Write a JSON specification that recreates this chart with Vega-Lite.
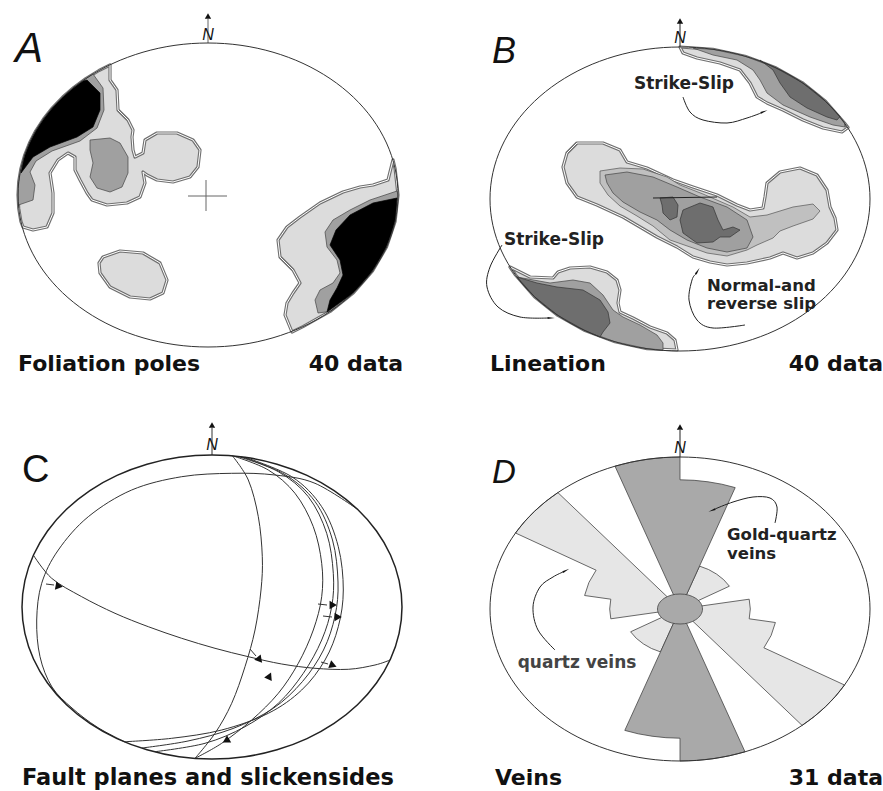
{
"$schema":"https://vega.github.io/schema/vega-lite/v6.json",
"padding":0,
"background":"white",
"spacing":0,
"bounds":"flush",
"columns":2,
"config":{"view":{"stroke":null}},
"datasets":{
"ellipse":[{"x":190,"y":0},{"x":187.1,"y":26.4},{"x":178.5,"y":52},{"x":164.5,"y":76},{"x":145.5,"y":97.7},{"x":122.1,"y":116.4},{"x":95,"y":131.6},{"x":65,"y":142.8},{"x":33,"y":149.7},{"x":0,"y":152},{"x":-33,"y":149.7},{"x":-65,"y":142.8},{"x":-95,"y":131.6},{"x":-122.1,"y":116.4},{"x":-145.5,"y":97.7},{"x":-164.5,"y":76},{"x":-178.5,"y":52},{"x":-187.1,"y":26.4},{"x":-190,"y":0},{"x":-187.1,"y":-26.4},{"x":-178.5,"y":-52},{"x":-164.5,"y":-76},{"x":-145.5,"y":-97.7},{"x":-122.1,"y":-116.4},{"x":-95,"y":-131.6},{"x":-65,"y":-142.8},{"x":-33,"y":-149.7},{"x":0,"y":-152},{"x":33,"y":-149.7},{"x":65,"y":-142.8},{"x":95,"y":-131.6},{"x":122.1,"y":-116.4},{"x":145.5,"y":-97.7},{"x":164.5,"y":-76},{"x":178.5,"y":-52},{"x":187.1,"y":-26.4}],
"polys":[
{"panel":"A","id":"A1","level":"light","x":-98,"y":130},{"panel":"A","id":"A1","level":"light","x":-98,"y":115},{"panel":"A","id":"A1","level":"light","x":-91,"y":105},{"panel":"A","id":"A1","level":"light","x":-90,"y":85},{"panel":"A","id":"A1","level":"light","x":-80,"y":75},{"panel":"A","id":"A1","level":"light","x":-75,"y":65},{"panel":"A","id":"A1","level":"light","x":-76,"y":58},{"panel":"A","id":"A1","level":"light","x":-75,"y":45},{"panel":"A","id":"A1","level":"light","x":-73,"y":38},{"panel":"A","id":"A1","level":"light","x":-65,"y":42},{"panel":"A","id":"A1","level":"light","x":-63,"y":55},{"panel":"A","id":"A1","level":"light","x":-51,"y":62},{"panel":"A","id":"A1","level":"light","x":-31,"y":62},{"panel":"A","id":"A1","level":"light","x":-15,"y":55},{"panel":"A","id":"A1","level":"light","x":-8,"y":45},{"panel":"A","id":"A1","level":"light","x":-10,"y":28},{"panel":"A","id":"A1","level":"light","x":-18,"y":18},{"panel":"A","id":"A1","level":"light","x":-35,"y":13},{"panel":"A","id":"A1","level":"light","x":-51,"y":15},{"panel":"A","id":"A1","level":"light","x":-61,"y":20},{"panel":"A","id":"A1","level":"light","x":-65,"y":23},{"panel":"A","id":"A1","level":"light","x":-63,"y":12},{"panel":"A","id":"A1","level":"light","x":-68,"y":-2},{"panel":"A","id":"A1","level":"light","x":-81,"y":-8},{"panel":"A","id":"A1","level":"light","x":-101,"y":-10},{"panel":"A","id":"A1","level":"light","x":-116,"y":-5},{"panel":"A","id":"A1","level":"light","x":-121,"y":2},{"panel":"A","id":"A1","level":"light","x":-128,"y":15},{"panel":"A","id":"A1","level":"light","x":-133,"y":25},{"panel":"A","id":"A1","level":"light","x":-133,"y":38},{"panel":"A","id":"A1","level":"light","x":-140,"y":42},{"panel":"A","id":"A1","level":"light","x":-150,"y":35},{"panel":"A","id":"A1","level":"light","x":-158,"y":22},{"panel":"A","id":"A1","level":"light","x":-155,"y":2},{"panel":"A","id":"A1","level":"light","x":-155,"y":-18},{"panel":"A","id":"A1","level":"light","x":-161,"y":-32},{"panel":"A","id":"A1","level":"light","x":-175,"y":-35},{"panel":"A","id":"A1","level":"light","x":-185,"y":-32},{"panel":"A","id":"A1","level":"light","x":-187.1,"y":-26.4},{"panel":"A","id":"A1","level":"light","x":-189.3,"y":-13.2},{"panel":"A","id":"A1","level":"light","x":-190,"y":0},{"panel":"A","id":"A1","level":"light","x":-189.3,"y":13.2},{"panel":"A","id":"A1","level":"light","x":-187.1,"y":26.4},{"panel":"A","id":"A1","level":"light","x":-183.5,"y":39.3},{"panel":"A","id":"A1","level":"light","x":-178.5,"y":52},{"panel":"A","id":"A1","level":"light","x":-172.2,"y":64.2},{"panel":"A","id":"A1","level":"light","x":-164.5,"y":76},{"panel":"A","id":"A1","level":"light","x":-155.6,"y":87.2},{"panel":"A","id":"A1","level":"light","x":-145.5,"y":97.7},{"panel":"A","id":"A1","level":"light","x":-134.3,"y":107.5},{"panel":"A","id":"A1","level":"light","x":-122.1,"y":116.4},{"panel":"A","id":"A1","level":"light","x":-109,"y":124.5},
{"panel":"A","id":"A2","level":"mid","x":-115,"y":121},{"panel":"A","id":"A2","level":"mid","x":-105,"y":107},{"panel":"A","id":"A2","level":"mid","x":-104,"y":85},{"panel":"A","id":"A2","level":"mid","x":-111,"y":67},{"panel":"A","id":"A2","level":"mid","x":-128,"y":54},{"panel":"A","id":"A2","level":"mid","x":-156,"y":44},{"panel":"A","id":"A2","level":"mid","x":-172,"y":34},{"panel":"A","id":"A2","level":"mid","x":-178,"y":23},{"panel":"A","id":"A2","level":"mid","x":-173,"y":10},{"panel":"A","id":"A2","level":"mid","x":-175,"y":-5},{"panel":"A","id":"A2","level":"mid","x":-189.5,"y":-10},{"panel":"A","id":"A2","level":"mid","x":-190,"y":0},{"panel":"A","id":"A2","level":"mid","x":-189.3,"y":13.2},{"panel":"A","id":"A2","level":"mid","x":-187.1,"y":26.4},{"panel":"A","id":"A2","level":"mid","x":-183.5,"y":39.3},{"panel":"A","id":"A2","level":"mid","x":-178.5,"y":52},{"panel":"A","id":"A2","level":"mid","x":-172.2,"y":64.2},{"panel":"A","id":"A2","level":"mid","x":-164.5,"y":76},{"panel":"A","id":"A2","level":"mid","x":-155.6,"y":87.2},{"panel":"A","id":"A2","level":"mid","x":-145.5,"y":97.7},{"panel":"A","id":"A2","level":"mid","x":-134.3,"y":107.5},{"panel":"A","id":"A2","level":"mid","x":-122.1,"y":116.4},
{"panel":"A","id":"A3","level":"mid","x":-118,"y":55},{"panel":"A","id":"A3","level":"mid","x":-98,"y":57},{"panel":"A","id":"A3","level":"mid","x":-88,"y":52},{"panel":"A","id":"A3","level":"mid","x":-80,"y":38},{"panel":"A","id":"A3","level":"mid","x":-80,"y":22},{"panel":"A","id":"A3","level":"mid","x":-86,"y":8},{"panel":"A","id":"A3","level":"mid","x":-98,"y":3},{"panel":"A","id":"A3","level":"mid","x":-111,"y":7},{"panel":"A","id":"A3","level":"mid","x":-118,"y":18},{"panel":"A","id":"A3","level":"mid","x":-115,"y":32},{"panel":"A","id":"A3","level":"mid","x":-118,"y":45},
{"panel":"A","id":"A4","level":"black","x":-121,"y":115},{"panel":"A","id":"A4","level":"black","x":-108,"y":102},{"panel":"A","id":"A4","level":"black","x":-108,"y":85},{"panel":"A","id":"A4","level":"black","x":-115,"y":68},{"panel":"A","id":"A4","level":"black","x":-131,"y":58},{"panel":"A","id":"A4","level":"black","x":-158,"y":48},{"panel":"A","id":"A4","level":"black","x":-175,"y":38},{"panel":"A","id":"A4","level":"black","x":-187,"y":22},{"panel":"A","id":"A4","level":"black","x":-183.5,"y":39.3},{"panel":"A","id":"A4","level":"black","x":-178.5,"y":52},{"panel":"A","id":"A4","level":"black","x":-172.2,"y":64.2},{"panel":"A","id":"A4","level":"black","x":-164.5,"y":76},{"panel":"A","id":"A4","level":"black","x":-155.6,"y":87.2},{"panel":"A","id":"A4","level":"black","x":-145.5,"y":97.7},{"panel":"A","id":"A4","level":"black","x":-134.3,"y":107.5},{"panel":"A","id":"A4","level":"black","x":-125,"y":114},
{"panel":"A","id":"A5","level":"light","x":-105,"y":-62},{"panel":"A","id":"A5","level":"light","x":-88,"y":-56},{"panel":"A","id":"A5","level":"light","x":-65,"y":-58},{"panel":"A","id":"A5","level":"light","x":-48,"y":-68},{"panel":"A","id":"A5","level":"light","x":-41,"y":-85},{"panel":"A","id":"A5","level":"light","x":-45,"y":-98},{"panel":"A","id":"A5","level":"light","x":-58,"y":-104},{"panel":"A","id":"A5","level":"light","x":-78,"y":-102},{"panel":"A","id":"A5","level":"light","x":-98,"y":-92},{"panel":"A","id":"A5","level":"light","x":-108,"y":-78},{"panel":"A","id":"A5","level":"light","x":-109,"y":-68},
{"panel":"A","id":"A6","level":"light","x":185,"y":35},{"panel":"A","id":"A6","level":"light","x":180,"y":15},{"panel":"A","id":"A6","level":"light","x":165,"y":10},{"panel":"A","id":"A6","level":"light","x":152,"y":8},{"panel":"A","id":"A6","level":"light","x":135,"y":3},{"panel":"A","id":"A6","level":"light","x":112,"y":-8},{"panel":"A","id":"A6","level":"light","x":92,"y":-22},{"panel":"A","id":"A6","level":"light","x":79,"y":-32},{"panel":"A","id":"A6","level":"light","x":70,"y":-45},{"panel":"A","id":"A6","level":"light","x":72,"y":-62},{"panel":"A","id":"A6","level":"light","x":85,"y":-75},{"panel":"A","id":"A6","level":"light","x":92,"y":-88},{"panel":"A","id":"A6","level":"light","x":85,"y":-98},{"panel":"A","id":"A6","level":"light","x":79,"y":-108},{"panel":"A","id":"A6","level":"light","x":77,"y":-120},{"panel":"A","id":"A6","level":"light","x":84,"y":-137},{"panel":"A","id":"A6","level":"light","x":95,"y":-131.6},{"panel":"A","id":"A6","level":"light","x":122.1,"y":-116.4},{"panel":"A","id":"A6","level":"light","x":145.5,"y":-97.7},{"panel":"A","id":"A6","level":"light","x":164.5,"y":-76},{"panel":"A","id":"A6","level":"light","x":178.5,"y":-52},{"panel":"A","id":"A6","level":"light","x":187.1,"y":-26.4},{"panel":"A","id":"A6","level":"light","x":190,"y":0},{"panel":"A","id":"A6","level":"light","x":187.1,"y":26.4},
{"panel":"A","id":"A7","level":"mid","x":189,"y":4},{"panel":"A","id":"A7","level":"mid","x":162,"y":-5},{"panel":"A","id":"A7","level":"mid","x":142,"y":-15},{"panel":"A","id":"A7","level":"mid","x":125,"y":-25},{"panel":"A","id":"A7","level":"mid","x":117,"y":-37},{"panel":"A","id":"A7","level":"mid","x":119,"y":-52},{"panel":"A","id":"A7","level":"mid","x":129,"y":-65},{"panel":"A","id":"A7","level":"mid","x":132,"y":-78},{"panel":"A","id":"A7","level":"mid","x":125,"y":-88},{"panel":"A","id":"A7","level":"mid","x":112,"y":-95},{"panel":"A","id":"A7","level":"mid","x":107,"y":-105},{"panel":"A","id":"A7","level":"mid","x":110,"y":-118},{"panel":"A","id":"A7","level":"mid","x":122.1,"y":-116.4},{"panel":"A","id":"A7","level":"mid","x":145.5,"y":-97.7},{"panel":"A","id":"A7","level":"mid","x":164.5,"y":-76},{"panel":"A","id":"A7","level":"mid","x":178.5,"y":-52},{"panel":"A","id":"A7","level":"mid","x":187.1,"y":-26.4},{"panel":"A","id":"A7","level":"mid","x":190,"y":0},
{"panel":"A","id":"A8","level":"black","x":189,"y":-3},{"panel":"A","id":"A8","level":"black","x":165,"y":-8},{"panel":"A","id":"A8","level":"black","x":142,"y":-20},{"panel":"A","id":"A8","level":"black","x":128,"y":-35},{"panel":"A","id":"A8","level":"black","x":122,"y":-50},{"panel":"A","id":"A8","level":"black","x":132,"y":-65},{"panel":"A","id":"A8","level":"black","x":135,"y":-80},{"panel":"A","id":"A8","level":"black","x":129,"y":-93},{"panel":"A","id":"A8","level":"black","x":122,"y":-105},{"panel":"A","id":"A8","level":"black","x":119,"y":-117},{"panel":"A","id":"A8","level":"black","x":145.5,"y":-97.7},{"panel":"A","id":"A8","level":"black","x":164.5,"y":-76},{"panel":"A","id":"A8","level":"black","x":178.5,"y":-52},{"panel":"A","id":"A8","level":"black","x":187.1,"y":-26.4},
{"panel":"B","id":"B1","level":"light","x":0,"y":152},{"panel":"B","id":"B1","level":"light","x":3,"y":146},{"panel":"B","id":"B1","level":"light","x":17,"y":141},{"panel":"B","id":"B1","level":"light","x":40,"y":136},{"panel":"B","id":"B1","level":"light","x":60,"y":129},{"panel":"B","id":"B1","level":"light","x":70,"y":116},{"panel":"B","id":"B1","level":"light","x":77,"y":102},{"panel":"B","id":"B1","level":"light","x":87,"y":96},{"panel":"B","id":"B1","level":"light","x":103,"y":89},{"panel":"B","id":"B1","level":"light","x":123,"y":79},{"panel":"B","id":"B1","level":"light","x":143,"y":71},{"panel":"B","id":"B1","level":"light","x":162,"y":67},{"panel":"B","id":"B1","level":"light","x":168,"y":71.5},{"panel":"B","id":"B1","level":"light","x":164.5,"y":76},{"panel":"B","id":"B1","level":"light","x":145.5,"y":97.7},{"panel":"B","id":"B1","level":"light","x":122.1,"y":116.4},{"panel":"B","id":"B1","level":"light","x":95,"y":131.6},{"panel":"B","id":"B1","level":"light","x":65,"y":142.8},{"panel":"B","id":"B1","level":"light","x":33,"y":149.7},
{"panel":"B","id":"B2","level":"mid","x":13,"y":151},{"panel":"B","id":"B2","level":"mid","x":33,"y":144},{"panel":"B","id":"B2","level":"mid","x":57,"y":139},{"panel":"B","id":"B2","level":"mid","x":73,"y":129},{"panel":"B","id":"B2","level":"mid","x":80,"y":119},{"panel":"B","id":"B2","level":"mid","x":87,"y":106},{"panel":"B","id":"B2","level":"mid","x":103,"y":94},{"panel":"B","id":"B2","level":"mid","x":130,"y":82},{"panel":"B","id":"B2","level":"mid","x":153,"y":74},{"panel":"B","id":"B2","level":"mid","x":165,"y":72},{"panel":"B","id":"B2","level":"mid","x":164.5,"y":76},{"panel":"B","id":"B2","level":"mid","x":145.5,"y":97.7},{"panel":"B","id":"B2","level":"mid","x":122.1,"y":116.4},{"panel":"B","id":"B2","level":"mid","x":95,"y":131.6},{"panel":"B","id":"B2","level":"mid","x":65,"y":142.8},{"panel":"B","id":"B2","level":"mid","x":33,"y":149.7},
{"panel":"B","id":"B3","level":"dark","x":80,"y":139},{"panel":"B","id":"B3","level":"dark","x":93,"y":129},{"panel":"B","id":"B3","level":"dark","x":100,"y":116},{"panel":"B","id":"B3","level":"dark","x":110,"y":102},{"panel":"B","id":"B3","level":"dark","x":127,"y":91},{"panel":"B","id":"B3","level":"dark","x":147,"y":82},{"panel":"B","id":"B3","level":"dark","x":157,"y":79},{"panel":"B","id":"B3","level":"dark","x":160,"y":82.5},{"panel":"B","id":"B3","level":"dark","x":145.5,"y":97.7},{"panel":"B","id":"B3","level":"dark","x":122.1,"y":116.4},{"panel":"B","id":"B3","level":"dark","x":95,"y":131.6},{"panel":"B","id":"B3","level":"dark","x":80.3,"y":137.8},
{"panel":"B","id":"B4","level":"light","x":-113,"y":46},{"panel":"B","id":"B4","level":"light","x":-103,"y":56},{"panel":"B","id":"B4","level":"light","x":-77,"y":56},{"panel":"B","id":"B4","level":"light","x":-60,"y":49},{"panel":"B","id":"B4","level":"light","x":-53,"y":37},{"panel":"B","id":"B4","level":"light","x":-33,"y":31},{"panel":"B","id":"B4","level":"light","x":-7,"y":19},{"panel":"B","id":"B4","level":"light","x":13,"y":12},{"panel":"B","id":"B4","level":"light","x":37,"y":4},{"panel":"B","id":"B4","level":"light","x":57,"y":-6},{"panel":"B","id":"B4","level":"light","x":70,"y":-11},{"panel":"B","id":"B4","level":"light","x":83,"y":-9},{"panel":"B","id":"B4","level":"light","x":85,"y":2},{"panel":"B","id":"B4","level":"light","x":87,"y":16},{"panel":"B","id":"B4","level":"light","x":100,"y":27},{"panel":"B","id":"B4","level":"light","x":120,"y":31},{"panel":"B","id":"B4","level":"light","x":137,"y":24},{"panel":"B","id":"B4","level":"light","x":147,"y":9},{"panel":"B","id":"B4","level":"light","x":150,"y":-8},{"panel":"B","id":"B4","level":"light","x":155,"y":-19},{"panel":"B","id":"B4","level":"light","x":157,"y":-31},{"panel":"B","id":"B4","level":"light","x":147,"y":-44},{"panel":"B","id":"B4","level":"light","x":133,"y":-54},{"panel":"B","id":"B4","level":"light","x":117,"y":-59},{"panel":"B","id":"B4","level":"light","x":103,"y":-54},{"panel":"B","id":"B4","level":"light","x":90,"y":-59},{"panel":"B","id":"B4","level":"light","x":67,"y":-64},{"panel":"B","id":"B4","level":"light","x":47,"y":-66},{"panel":"B","id":"B4","level":"light","x":30,"y":-63},{"panel":"B","id":"B4","level":"light","x":13,"y":-58},{"panel":"B","id":"B4","level":"light","x":-3,"y":-48},{"panel":"B","id":"B4","level":"light","x":-23,"y":-38},{"panel":"B","id":"B4","level":"light","x":-40,"y":-28},{"panel":"B","id":"B4","level":"light","x":-57,"y":-18},{"panel":"B","id":"B4","level":"light","x":-83,"y":-6},{"panel":"B","id":"B4","level":"light","x":-103,"y":2},{"panel":"B","id":"B4","level":"light","x":-113,"y":16},{"panel":"B","id":"B4","level":"light","x":-117,"y":32},
{"panel":"B","id":"B5","level":"midlight","x":-80,"y":28},{"panel":"B","id":"B5","level":"midlight","x":-60,"y":31},{"panel":"B","id":"B5","level":"midlight","x":-37,"y":30},{"panel":"B","id":"B5","level":"midlight","x":-13,"y":22},{"panel":"B","id":"B5","level":"midlight","x":0,"y":14},{"panel":"B","id":"B5","level":"midlight","x":23,"y":5},{"panel":"B","id":"B5","level":"midlight","x":53,"y":-8},{"panel":"B","id":"B5","level":"midlight","x":70,"y":-18},{"panel":"B","id":"B5","level":"midlight","x":87,"y":-16},{"panel":"B","id":"B5","level":"midlight","x":113,"y":-8},{"panel":"B","id":"B5","level":"midlight","x":133,"y":-5},{"panel":"B","id":"B5","level":"midlight","x":140,"y":-12},{"panel":"B","id":"B5","level":"midlight","x":133,"y":-20},{"panel":"B","id":"B5","level":"midlight","x":113,"y":-27},{"panel":"B","id":"B5","level":"midlight","x":100,"y":-32},{"panel":"B","id":"B5","level":"midlight","x":93,"y":-39},{"panel":"B","id":"B5","level":"midlight","x":77,"y":-46},{"panel":"B","id":"B5","level":"midlight","x":67,"y":-51},{"panel":"B","id":"B5","level":"midlight","x":47,"y":-57},{"panel":"B","id":"B5","level":"midlight","x":27,"y":-54},{"panel":"B","id":"B5","level":"midlight","x":13,"y":-49},{"panel":"B","id":"B5","level":"midlight","x":-10,"y":-41},{"panel":"B","id":"B5","level":"midlight","x":-27,"y":-27},{"panel":"B","id":"B5","level":"midlight","x":-43,"y":-17},{"panel":"B","id":"B5","level":"midlight","x":-60,"y":-7},{"panel":"B","id":"B5","level":"midlight","x":-72,"y":4},{"panel":"B","id":"B5","level":"midlight","x":-80,"y":16},
{"panel":"B","id":"B6","level":"mid","x":-75,"y":24},{"panel":"B","id":"B6","level":"mid","x":-53,"y":27},{"panel":"B","id":"B6","level":"mid","x":-27,"y":22},{"panel":"B","id":"B6","level":"mid","x":-3,"y":12},{"panel":"B","id":"B6","level":"mid","x":20,"y":2},{"panel":"B","id":"B6","level":"mid","x":47,"y":-8},{"panel":"B","id":"B6","level":"mid","x":67,"y":-21},{"panel":"B","id":"B6","level":"mid","x":73,"y":-38},{"panel":"B","id":"B6","level":"mid","x":67,"y":-49},{"panel":"B","id":"B6","level":"mid","x":47,"y":-53},{"panel":"B","id":"B6","level":"mid","x":27,"y":-49},{"panel":"B","id":"B6","level":"mid","x":7,"y":-41},{"panel":"B","id":"B6","level":"mid","x":-10,"y":-31},{"panel":"B","id":"B6","level":"mid","x":-23,"y":-21},{"panel":"B","id":"B6","level":"mid","x":-40,"y":-13},{"panel":"B","id":"B6","level":"mid","x":-57,"y":-3},{"panel":"B","id":"B6","level":"mid","x":-67,"y":6},{"panel":"B","id":"B6","level":"mid","x":-73,"y":16},
{"panel":"B","id":"B7","level":"dark","x":-20,"y":1},{"panel":"B","id":"B7","level":"dark","x":-7,"y":2},{"panel":"B","id":"B7","level":"dark","x":-2,"y":-6},{"panel":"B","id":"B7","level":"dark","x":-3,"y":-18},{"panel":"B","id":"B7","level":"dark","x":-10,"y":-21},{"panel":"B","id":"B7","level":"dark","x":-17,"y":-14},{"panel":"B","id":"B7","level":"dark","x":-18,"y":-6},
{"panel":"B","id":"B8","level":"dark","x":3,"y":-11},{"panel":"B","id":"B8","level":"dark","x":20,"y":-4},{"panel":"B","id":"B8","level":"dark","x":33,"y":-8},{"panel":"B","id":"B8","level":"dark","x":38,"y":-21},{"panel":"B","id":"B8","level":"dark","x":43,"y":-31},{"panel":"B","id":"B8","level":"dark","x":53,"y":-28},{"panel":"B","id":"B8","level":"dark","x":60,"y":-31},{"panel":"B","id":"B8","level":"dark","x":50,"y":-38},{"panel":"B","id":"B8","level":"dark","x":40,"y":-38},{"panel":"B","id":"B8","level":"dark","x":33,"y":-43},{"panel":"B","id":"B8","level":"dark","x":17,"y":-44},{"panel":"B","id":"B8","level":"dark","x":3,"y":-34},{"panel":"B","id":"B8","level":"dark","x":0,"y":-21},
{"panel":"B","id":"B9","level":"light","x":-170,"y":-68},{"panel":"B","id":"B9","level":"light","x":-150,"y":-78},{"panel":"B","id":"B9","level":"light","x":-127,"y":-79},{"panel":"B","id":"B9","level":"light","x":-122,"y":-73},{"panel":"B","id":"B9","level":"light","x":-110,"y":-69},{"panel":"B","id":"B9","level":"light","x":-90,"y":-68},{"panel":"B","id":"B9","level":"light","x":-73,"y":-73},{"panel":"B","id":"B9","level":"light","x":-63,"y":-81},{"panel":"B","id":"B9","level":"light","x":-60,"y":-91},{"panel":"B","id":"B9","level":"light","x":-62,"y":-104},{"panel":"B","id":"B9","level":"light","x":-60,"y":-113},{"panel":"B","id":"B9","level":"light","x":-47,"y":-119},{"panel":"B","id":"B9","level":"light","x":-30,"y":-128},{"panel":"B","id":"B9","level":"light","x":-13,"y":-134},{"panel":"B","id":"B9","level":"light","x":-5,"y":-141},{"panel":"B","id":"B9","level":"light","x":-3,"y":-151},{"panel":"B","id":"B9","level":"light","x":-33,"y":-149.7},{"panel":"B","id":"B9","level":"light","x":-65,"y":-142.8},{"panel":"B","id":"B9","level":"light","x":-95,"y":-131.6},{"panel":"B","id":"B9","level":"light","x":-122.1,"y":-116.4},{"panel":"B","id":"B9","level":"light","x":-145.5,"y":-97.7},{"panel":"B","id":"B9","level":"light","x":-164.5,"y":-76},
{"panel":"B","id":"B10","level":"mid","x":-163,"y":-78},{"panel":"B","id":"B10","level":"mid","x":-130,"y":-84},{"panel":"B","id":"B10","level":"mid","x":-107,"y":-81},{"panel":"B","id":"B10","level":"mid","x":-90,"y":-84},{"panel":"B","id":"B10","level":"mid","x":-77,"y":-96},{"panel":"B","id":"B10","level":"mid","x":-67,"y":-111},{"panel":"B","id":"B10","level":"mid","x":-57,"y":-118},{"panel":"B","id":"B10","level":"mid","x":-40,"y":-126},{"panel":"B","id":"B10","level":"mid","x":-23,"y":-136},{"panel":"B","id":"B10","level":"mid","x":-17,"y":-144},{"panel":"B","id":"B10","level":"mid","x":-17,"y":-151},{"panel":"B","id":"B10","level":"mid","x":-33,"y":-149.7},{"panel":"B","id":"B10","level":"mid","x":-65,"y":-142.8},{"panel":"B","id":"B10","level":"mid","x":-95,"y":-131.6},{"panel":"B","id":"B10","level":"mid","x":-122.1,"y":-116.4},{"panel":"B","id":"B10","level":"mid","x":-145.5,"y":-97.7},
{"panel":"B","id":"B11","level":"dark","x":-163,"y":-78},{"panel":"B","id":"B11","level":"dark","x":-143,"y":-84},{"panel":"B","id":"B11","level":"dark","x":-123,"y":-88},{"panel":"B","id":"B11","level":"dark","x":-97,"y":-91},{"panel":"B","id":"B11","level":"dark","x":-80,"y":-101},{"panel":"B","id":"B11","level":"dark","x":-72,"y":-113},{"panel":"B","id":"B11","level":"dark","x":-70,"y":-124},{"panel":"B","id":"B11","level":"dark","x":-77,"y":-133},{"panel":"B","id":"B11","level":"dark","x":-80,"y":-138},{"panel":"B","id":"B11","level":"dark","x":-95,"y":-131.6},{"panel":"B","id":"B11","level":"dark","x":-122.1,"y":-116.4},{"panel":"B","id":"B11","level":"dark","x":-145.5,"y":-97.7},
{"panel":"D","id":"Dqw","level":"qz","x":0,"y":0},{"panel":"D","id":"Dqw","level":"qz","x":-69.2,"y":-9.8},{"panel":"D","id":"Dqw","level":"qz","x":-70.3,"y":0},{"panel":"D","id":"Dqw","level":"qz","x":-69.2,"y":9.8},{"panel":"D","id":"Dqw","level":"qz","x":-95.4,"y":13.5},{"panel":"D","id":"Dqw","level":"qz","x":-91.1,"y":26.5},{"panel":"D","id":"Dqw","level":"qz","x":-83.9,"y":38.8},{"panel":"D","id":"Dqw","level":"qz","x":-164.5,"y":76},{"panel":"D","id":"Dqw","level":"qz","x":-155.6,"y":87.2},{"panel":"D","id":"Dqw","level":"qz","x":-145.5,"y":97.7},{"panel":"D","id":"Dqw","level":"qz","x":-134.3,"y":107.5},{"panel":"D","id":"Dqw","level":"qz","x":-122.1,"y":116.4},
{"panel":"D","id":"Dqe","level":"qz","x":0,"y":0},{"panel":"D","id":"Dqe","level":"qz","x":69.2,"y":9.8},{"panel":"D","id":"Dqe","level":"qz","x":70.3,"y":0},{"panel":"D","id":"Dqe","level":"qz","x":69.2,"y":-9.8},{"panel":"D","id":"Dqe","level":"qz","x":95.4,"y":-13.5},{"panel":"D","id":"Dqe","level":"qz","x":91.1,"y":-26.5},{"panel":"D","id":"Dqe","level":"qz","x":83.9,"y":-38.8},{"panel":"D","id":"Dqe","level":"qz","x":164.5,"y":-76},{"panel":"D","id":"Dqe","level":"qz","x":155.6,"y":-87.2},{"panel":"D","id":"Dqe","level":"qz","x":145.5,"y":-97.7},{"panel":"D","id":"Dqe","level":"qz","x":134.3,"y":-107.5},{"panel":"D","id":"Dqe","level":"qz","x":122.1,"y":-116.4},
{"panel":"D","id":"Dqne","level":"qz","x":0,"y":0},{"panel":"D","id":"Dqne","level":"qz","x":19.5,"y":42.9},{"panel":"D","id":"Dqne","level":"qz","x":28.5,"y":39.5},{"panel":"D","id":"Dqne","level":"qz","x":36.6,"y":34.9},{"panel":"D","id":"Dqne","level":"qz","x":43.7,"y":29.3},{"panel":"D","id":"Dqne","level":"qz","x":49.4,"y":22.8},
{"panel":"D","id":"Dqsw","level":"qz","x":0,"y":0},{"panel":"D","id":"Dqsw","level":"qz","x":-19.5,"y":-42.9},{"panel":"D","id":"Dqsw","level":"qz","x":-28.5,"y":-39.5},{"panel":"D","id":"Dqsw","level":"qz","x":-36.6,"y":-34.9},{"panel":"D","id":"Dqsw","level":"qz","x":-43.7,"y":-29.3},{"panel":"D","id":"Dqsw","level":"qz","x":-49.4,"y":-22.8},
{"panel":"D","id":"Dgn","level":"gq","x":0,"y":0},{"panel":"D","id":"Dgn","level":"gq","x":-65,"y":142.8},{"panel":"D","id":"Dgn","level":"gq","x":-49.2,"y":146.8},{"panel":"D","id":"Dgn","level":"gq","x":-33,"y":149.7},{"panel":"D","id":"Dgn","level":"gq","x":-16.6,"y":151.4},{"panel":"D","id":"Dgn","level":"gq","x":0,"y":152},{"panel":"D","id":"Dgn","level":"gq","x":0,"y":129.2},{"panel":"D","id":"Dgn","level":"gq","x":14.1,"y":128.7},{"panel":"D","id":"Dgn","level":"gq","x":28,"y":127.2},{"panel":"D","id":"Dgn","level":"gq","x":41.8,"y":124.8},{"panel":"D","id":"Dgn","level":"gq","x":55.2,"y":121.4},
{"panel":"D","id":"Dgs","level":"gq","x":0,"y":0},{"panel":"D","id":"Dgs","level":"gq","x":65,"y":-142.8},{"panel":"D","id":"Dgs","level":"gq","x":49.2,"y":-146.8},{"panel":"D","id":"Dgs","level":"gq","x":33,"y":-149.7},{"panel":"D","id":"Dgs","level":"gq","x":16.6,"y":-151.4},{"panel":"D","id":"Dgs","level":"gq","x":0,"y":-152},{"panel":"D","id":"Dgs","level":"gq","x":0,"y":-129.2},{"panel":"D","id":"Dgs","level":"gq","x":-14.1,"y":-128.7},{"panel":"D","id":"Dgs","level":"gq","x":-28,"y":-127.2},{"panel":"D","id":"Dgs","level":"gq","x":-41.8,"y":-124.8},{"panel":"D","id":"Dgs","level":"gq","x":-55.2,"y":-121.4},
{"panel":"D","id":"Dc","level":"core","x":22.5,"y":0},{"panel":"D","id":"Dc","level":"core","x":20.8,"y":5.7},{"panel":"D","id":"Dc","level":"core","x":15.9,"y":10.6},{"panel":"D","id":"Dc","level":"core","x":8.6,"y":13.9},{"panel":"D","id":"Dc","level":"core","x":0,"y":15},{"panel":"D","id":"Dc","level":"core","x":-8.6,"y":13.9},{"panel":"D","id":"Dc","level":"core","x":-15.9,"y":10.6},{"panel":"D","id":"Dc","level":"core","x":-20.8,"y":5.7},{"panel":"D","id":"Dc","level":"core","x":-22.5,"y":0},{"panel":"D","id":"Dc","level":"core","x":-20.8,"y":-5.7},{"panel":"D","id":"Dc","level":"core","x":-15.9,"y":-10.6},{"panel":"D","id":"Dc","level":"core","x":-8.6,"y":-13.9},{"panel":"D","id":"Dc","level":"core","x":0,"y":-15},{"panel":"D","id":"Dc","level":"core","x":8.6,"y":-13.9},{"panel":"D","id":"Dc","level":"core","x":15.9,"y":-10.6},{"panel":"D","id":"Dc","level":"core","x":20.8,"y":-5.7}
],
"lines":[
{"panel":"A","id":"Ah","x":-20,"y":-1},{"panel":"A","id":"Ah","x":19,"y":-1},
{"panel":"A","id":"Av","x":-2,"y":15},{"panel":"A","id":"Av","x":-2,"y":-16},
{"panel":"A","id":"An","x":0,"y":152},{"panel":"A","id":"An","x":0,"y":176},
{"panel":"B","id":"Bn","x":0,"y":152},{"panel":"B","id":"Bn","x":0,"y":176},
{"panel":"B","id":"Bl","x":-27,"y":1},{"panel":"B","id":"Bl","x":37,"y":2},
{"panel":"B","id":"Bc1","x":3,"y":102},{"panel":"B","id":"Bc1","x":10,"y":87},{"panel":"B","id":"Bc1","x":23,"y":79},{"panel":"B","id":"Bc1","x":47,"y":76},{"panel":"B","id":"Bc1","x":67,"y":81},{"panel":"B","id":"Bc1","x":81,"y":86},
{"panel":"B","id":"Bc2","x":-178,"y":-46},{"panel":"B","id":"Bc2","x":-190,"y":-68},{"panel":"B","id":"Bc2","x":-193,"y":-88},{"panel":"B","id":"Bc2","x":-182,"y":-108},{"panel":"B","id":"Bc2","x":-160,"y":-118},{"panel":"B","id":"Bc2","x":-132,"y":-119},
{"panel":"B","id":"Bc3","x":65,"y":-126},{"panel":"B","id":"Bc3","x":33,"y":-129},{"panel":"B","id":"Bc3","x":17,"y":-121},{"panel":"B","id":"Bc3","x":9,"y":-101},{"panel":"B","id":"Bc3","x":12,"y":-81},{"panel":"B","id":"Bc3","x":16,"y":-75},
{"panel":"C","id":"Cn","x":0,"y":152},{"panel":"C","id":"Cn","x":0,"y":179},
{"panel":"C","id":"Cc","x":19.7,"y":152},{"panel":"C","id":"Cc","x":36.3,"y":127},{"panel":"C","id":"Cc","x":46.3,"y":90.3},{"panel":"C","id":"Cc","x":50.3,"y":50.3},{"panel":"C","id":"Cc","x":49,"y":17},{"panel":"C","id":"Cc","x":43,"y":-23},{"panel":"C","id":"Cc","x":33,"y":-59.7},{"panel":"C","id":"Cc","x":19.7,"y":-96.3},{"panel":"C","id":"Cc","x":3,"y":-126.3},{"panel":"C","id":"Cc","x":-17,"y":-151.3},
{"panel":"C","id":"Ca","x":-178.7,"y":52},{"panel":"C","id":"Ca","x":-160.3,"y":28.7},{"panel":"C","id":"Ca","x":-130.3,"y":10.3},{"panel":"C","id":"Ca","x":-97,"y":-6.3},{"panel":"C","id":"Ca","x":-63.7,"y":-19.7},{"panel":"C","id":"Ca","x":-30.3,"y":-31.3},{"panel":"C","id":"Ca","x":3,"y":-41.3},{"panel":"C","id":"Ca","x":36.3,"y":-49.7},{"panel":"C","id":"Ca","x":69.7,"y":-57},{"panel":"C","id":"Ca","x":103,"y":-61.3},{"panel":"C","id":"Ca","x":136.3,"y":-62.3},{"panel":"C","id":"Ca","x":163,"y":-58},{"panel":"C","id":"Ca","x":178,"y":-53},
{"panel":"C","id":"Cb","x":145.5,"y":97.7},{"panel":"C","id":"Cb","x":103,"y":123.7},{"panel":"C","id":"Cb","x":63,"y":132},{"panel":"C","id":"Cb","x":19.7,"y":133.7},{"panel":"C","id":"Cb","x":-30.3,"y":130.3},{"panel":"C","id":"Cb","x":-80.3,"y":117},{"panel":"C","id":"Cb","x":-123.7,"y":90.3},{"panel":"C","id":"Cb","x":-153.7,"y":57},{"panel":"C","id":"Cb","x":-170.3,"y":23.7},{"panel":"C","id":"Cb","x":-175.3,"y":-13},{"panel":"C","id":"Cb","x":-172,"y":-49.7},{"panel":"C","id":"Cb","x":-160,"y":-80},{"panel":"C","id":"Cb","x":-140,"y":-101},{"panel":"C","id":"Cb","x":-115,"y":-120},{"panel":"C","id":"Cb","x":-87,"y":-135},
{"panel":"C","id":"Cbeta","x":21.3,"y":151},{"panel":"C","id":"Cbeta","x":56.3,"y":137},{"panel":"C","id":"Cbeta","x":83,"y":113.7},{"panel":"C","id":"Cbeta","x":101.3,"y":80.3},{"panel":"C","id":"Cbeta","x":109.7,"y":43.7},{"panel":"C","id":"Cbeta","x":109.7,"y":10.3},{"panel":"C","id":"Cbeta","x":101.3,"y":-23},{"panel":"C","id":"Cbeta","x":86.3,"y":-56.3},{"panel":"C","id":"Cbeta","x":66.3,"y":-86.3},{"panel":"C","id":"Cbeta","x":39.7,"y":-113},{"panel":"C","id":"Cbeta","x":9.7,"y":-136.3},{"panel":"C","id":"Cbeta","x":-17,"y":-151.3},
{"panel":"C","id":"Cgamma","x":26.3,"y":150.5},{"panel":"C","id":"Cgamma","x":66.3,"y":135.3},{"panel":"C","id":"Cgamma","x":96.3,"y":110.3},{"panel":"C","id":"Cgamma","x":114.7,"y":73.7},{"panel":"C","id":"Cgamma","x":121.3,"y":33.7},{"panel":"C","id":"Cgamma","x":119.7,"y":0.3},{"panel":"C","id":"Cgamma","x":109.7,"y":-33},{"panel":"C","id":"Cgamma","x":91.3,"y":-66.3},{"panel":"C","id":"Cgamma","x":66.3,"y":-96.3},{"panel":"C","id":"Cgamma","x":33,"y":-119.7},{"panel":"C","id":"Cgamma","x":-7,"y":-136.3},{"panel":"C","id":"Cgamma","x":-57,"y":-144.7},
{"panel":"C","id":"Ceps","x":29,"y":150.3},{"panel":"C","id":"Ceps","x":72,"y":133},{"panel":"C","id":"Ceps","x":103,"y":105.5},{"panel":"C","id":"Ceps","x":120.5,"y":67},{"panel":"C","id":"Ceps","x":126,"y":25},{"panel":"C","id":"Ceps","x":123,"y":-9},{"panel":"C","id":"Ceps","x":111.5,"y":-43},{"panel":"C","id":"Ceps","x":90.5,"y":-74.5},{"panel":"C","id":"Ceps","x":61.3,"y":-101.3},{"panel":"C","id":"Ceps","x":21,"y":-121.5},{"panel":"C","id":"Ceps","x":-24,"y":-134},{"panel":"C","id":"Ceps","x":-70,"y":-141},
{"panel":"C","id":"Cdelta","x":33,"y":149.7},{"panel":"C","id":"Cdelta","x":79.7,"y":130.3},{"panel":"C","id":"Cdelta","x":109.7,"y":100.3},{"panel":"C","id":"Cdelta","x":126.3,"y":60.3},{"panel":"C","id":"Cdelta","x":131.3,"y":17},{"panel":"C","id":"Cdelta","x":126.3,"y":-19.7},{"panel":"C","id":"Cdelta","x":113,"y":-53},{"panel":"C","id":"Cdelta","x":89.7,"y":-83},{"panel":"C","id":"Cdelta","x":56.3,"y":-106.3},{"panel":"C","id":"Cdelta","x":9.7,"y":-123},{"panel":"C","id":"Cdelta","x":-40.3,"y":-131.3},{"panel":"C","id":"Cdelta","x":-87,"y":-134.7},
{"panel":"C","id":"Ct1","x":-166,"y":23},{"panel":"C","id":"Ct1","x":-158,"y":22},
{"panel":"C","id":"Ct2","x":106,"y":3},{"panel":"C","id":"Ct2","x":115,"y":2},
{"panel":"C","id":"Ct3","x":111,"y":-9},{"panel":"C","id":"Ct3","x":120,"y":-10},
{"panel":"C","id":"Ct4","x":38,"y":-42},{"panel":"C","id":"Ct4","x":44,"y":-49},
{"panel":"C","id":"Ct5","x":109,"y":-55},{"panel":"C","id":"Ct5","x":116,"y":-57},
{"panel":"D","id":"Dn","x":0,"y":152},{"panel":"D","id":"Dn","x":0,"y":179},
{"panel":"D","id":"Dd1","x":95,"y":86},{"panel":"D","id":"Dd1","x":97,"y":102},{"panel":"D","id":"Dd1","x":90,"y":111},{"panel":"D","id":"Dd1","x":73,"y":112},{"panel":"D","id":"Dd1","x":53,"y":107},{"panel":"D","id":"Dd1","x":35,"y":100},
{"panel":"D","id":"Dd2","x":-125,"y":-41},{"panel":"D","id":"Dd2","x":-142,"y":-21},{"panel":"D","id":"Dd2","x":-147,"y":2},{"panel":"D","id":"Dd2","x":-140,"y":22},{"panel":"D","id":"Dd2","x":-127,"y":32},{"panel":"D","id":"Dd2","x":-117,"y":37}
],
"heads":[
{"panel":"A","kind":"north","x":0,"y":178,"dir":0},
{"panel":"B","kind":"north","x":0,"y":177,"dir":0},
{"panel":"B","kind":"note","x":83,"y":87,"dir":69},
{"panel":"B","kind":"note","x":-130,"y":-119,"dir":90},
{"panel":"B","kind":"note","x":17,"y":-73,"dir":32},
{"panel":"C","kind":"north","x":0,"y":181,"dir":0},
{"panel":"C","kind":"slick","x":-154,"y":21,"dir":100},
{"panel":"C","kind":"slick","x":120,"y":2,"dir":90},
{"panel":"C","kind":"slick","x":125,"y":-10,"dir":90},
{"panel":"C","kind":"slick","x":47,"y":-52,"dir":140},
{"panel":"C","kind":"slick","x":57,"y":-70,"dir":145},
{"panel":"C","kind":"slick","x":120,"y":-58,"dir":110},
{"panel":"C","kind":"slick","x":15,"y":-133,"dir":0},
{"panel":"D","kind":"north","x":0,"y":181,"dir":0},
{"panel":"D","kind":"note","x":33,"y":99,"dir":248},
{"panel":"D","kind":"note","x":-115,"y":38,"dir":63}
],
"texts":[
{"panel":"A","kind":"letter","label":"A","x":-193,"y":133},
{"panel":"A","kind":"N","label":"N","x":0,"y":155},
{"panel":"A","kind":"title","label":"Foliation poles","x":-190,"y":-176},
{"panel":"A","kind":"count","label":"40 data","x":195,"y":-176},
{"panel":"B","kind":"letter","label":"B","x":-188,"y":136},
{"panel":"B","kind":"N","label":"N","x":0,"y":156},
{"panel":"B","kind":"title","label":"Lineation","x":-190,"y":-172},
{"panel":"B","kind":"count","label":"40 data","x":203,"y":-172},
{"panel":"B","kind":"notec","label":"Strike-Slip","x":4,"y":110},
{"panel":"B","kind":"notec","label":"Strike-Slip","x":-126,"y":-46},
{"panel":"B","kind":"note","label":"Normal-and","x":27,"y":-92},
{"panel":"B","kind":"note","label":"reverse slip","x":27,"y":-110},
{"panel":"C","kind":"letter","label":"C","x":-190,"y":125},
{"panel":"C","kind":"N","label":"N","x":0,"y":157},
{"panel":"C","kind":"title","label":"Fault planes and slickensides","x":-190,"y":-178},
{"panel":"D","kind":"letter","label":"D","x":-188,"y":126},
{"panel":"D","kind":"N","label":"N","x":0,"y":156},
{"panel":"D","kind":"title","label":"Veins","x":-185,"y":-176},
{"panel":"D","kind":"count","label":"31 data","x":203,"y":-176},
{"panel":"D","kind":"note","label":"Gold-quartz","x":47,"y":69},
{"panel":"D","kind":"note","label":"veins","x":47,"y":50},
{"panel":"D","kind":"notec","label":"quartz veins","x":-103,"y":-59}
]
},
"concat":[
{"width":441,"height":396,
"encoding":{"x":{"field":"x","type":"quantitative","scale":{"domain":[-208,233],"nice":false,"zero":false},"axis":null},"y":{"field":"y","type":"quantitative","scale":{"domain":[-201,195],"nice":false,"zero":false},"axis":null}},
"layer":[
{"data":{"name":"polys"},"transform":[{"filter":"datum.panel=='A' && datum.level=='light'"}],"mark":{"type":"line","interpolate":"linear-closed","stroke":"#707070","strokeWidth":3.2,"strokeJoin":"round"},"encoding":{"detail":{"field":"id"},"order":{"value":null},"fill":{"field":"level","type":"nominal","scale":{"domain":["light","midlight","mid","dark","black","qz","gq","core"],"range":["#dcdcdc","#c0c0c0","#a0a0a0","#6e6e6e","#000000","#e6e6e6","#a9a9a9","#a9a9a9"]},"legend":null}}},
{"data":{"name":"polys"},"transform":[{"filter":"datum.panel=='A' && datum.level=='light'"}],"mark":{"type":"line","interpolate":"linear-closed","stroke":"white","strokeWidth":1,"strokeJoin":"round"},"encoding":{"detail":{"field":"id"},"order":{"value":null}}},
{"data":{"name":"polys"},"transform":[{"filter":"datum.panel=='A' && datum.level=='mid'"}],"mark":{"type":"line","interpolate":"linear-closed","stroke":"#444","strokeWidth":0.7},"encoding":{"detail":{"field":"id"},"order":{"value":null},"fill":{"field":"level","type":"nominal","legend":null}}},
{"data":{"name":"polys"},"transform":[{"filter":"datum.panel=='A' && datum.level=='black'"}],"mark":{"type":"line","interpolate":"linear-closed","stroke":"#000","strokeWidth":0.7},"encoding":{"detail":{"field":"id"},"order":{"value":null},"fill":{"field":"level","type":"nominal","legend":null}}},
{"data":{"name":"lines"},"transform":[{"filter":"datum.panel=='A'"}],"mark":{"type":"line","interpolate":"cardinal","stroke":"#666","strokeWidth":1},"encoding":{"detail":{"field":"id"},"order":{"value":null}}},
{"data":{"name":"ellipse"},"mark":{"type":"line","interpolate":"cardinal-closed","stroke":"#333","strokeWidth":1},"encoding":{"order":{"value":null}}},
{"data":{"name":"heads"},"transform":[{"filter":"datum.panel=='A'"}],"mark":{"type":"point","shape":"triangle","filled":true,"color":"#111","opacity":1,"size":40},"encoding":{"angle":{"field":"dir","type":"quantitative","scale":null}}},
{"data":{"name":"texts"},"transform":[{"filter":"datum.panel=='A' && datum.kind=='letter'"}],"mark":{"type":"text","align":"left","baseline":"alphabetic","font":"Liberation Sans","fontStyle":"italic","fontSize":42,"color":"#111"},"encoding":{"text":{"field":"label"}}},
{"data":{"name":"texts"},"transform":[{"filter":"datum.panel=='A' && datum.kind=='N'"}],"mark":{"type":"text","align":"center","baseline":"alphabetic","font":"Liberation Sans","fontStyle":"italic","fontSize":16,"color":"#111"},"encoding":{"text":{"field":"label"}}},
{"data":{"name":"texts"},"transform":[{"filter":"datum.panel=='A' && datum.kind=='title'"}],"mark":{"type":"text","align":"left","baseline":"alphabetic","font":"DejaVu Sans","fontWeight":"bold","fontSize":22,"color":"#111"},"encoding":{"text":{"field":"label"}}},
{"data":{"name":"texts"},"transform":[{"filter":"datum.panel=='A' && datum.kind=='count'"}],"mark":{"type":"text","align":"right","baseline":"alphabetic","font":"DejaVu Sans","fontWeight":"bold","fontSize":22,"color":"#111"},"encoding":{"text":{"field":"label"}}}
]},
{"width":442,"height":396,
"encoding":{"x":{"field":"x","type":"quantitative","scale":{"domain":[-239,203],"nice":false,"zero":false},"axis":null},"y":{"field":"y","type":"quantitative","scale":{"domain":[-197,199],"nice":false,"zero":false},"axis":null}},
"layer":[
{"data":{"name":"polys"},"transform":[{"filter":"datum.panel=='B' && datum.level=='light'"}],"mark":{"type":"line","interpolate":"linear-closed","stroke":"#707070","strokeWidth":3.2,"strokeJoin":"round"},"encoding":{"detail":{"field":"id"},"order":{"value":null},"fill":{"field":"level","type":"nominal","scale":{"domain":["light","midlight","mid","dark","black","qz","gq","core"],"range":["#dcdcdc","#c0c0c0","#a0a0a0","#6e6e6e","#000000","#e6e6e6","#a9a9a9","#a9a9a9"]},"legend":null}}},
{"data":{"name":"polys"},"transform":[{"filter":"datum.panel=='B' && datum.level=='light'"}],"mark":{"type":"line","interpolate":"linear-closed","stroke":"white","strokeWidth":1,"strokeJoin":"round"},"encoding":{"detail":{"field":"id"},"order":{"value":null}}},
{"data":{"name":"polys"},"transform":[{"filter":"datum.panel=='B' && datum.level=='midlight'"}],"mark":{"type":"line","interpolate":"linear-closed","stroke":"#555","strokeWidth":0.7},"encoding":{"detail":{"field":"id"},"order":{"value":null},"fill":{"field":"level","type":"nominal","legend":null}}},
{"data":{"name":"polys"},"transform":[{"filter":"datum.panel=='B' && datum.level=='mid'"}],"mark":{"type":"line","interpolate":"linear-closed","stroke":"#444","strokeWidth":0.7},"encoding":{"detail":{"field":"id"},"order":{"value":null},"fill":{"field":"level","type":"nominal","legend":null}}},
{"data":{"name":"polys"},"transform":[{"filter":"datum.panel=='B' && datum.level=='dark'"}],"mark":{"type":"line","interpolate":"linear-closed","stroke":"#333","strokeWidth":0.7},"encoding":{"detail":{"field":"id"},"order":{"value":null},"fill":{"field":"level","type":"nominal","legend":null}}},
{"data":{"name":"lines"},"transform":[{"filter":"datum.panel=='B'"}],"mark":{"type":"line","interpolate":"cardinal","stroke":"#222","strokeWidth":1},"encoding":{"detail":{"field":"id"},"order":{"value":null}}},
{"data":{"name":"ellipse"},"mark":{"type":"line","interpolate":"cardinal-closed","stroke":"#333","strokeWidth":1},"encoding":{"order":{"value":null}}},
{"data":{"name":"heads"},"transform":[{"filter":"datum.panel=='B' && datum.kind=='north'"}],"mark":{"type":"point","shape":"triangle","filled":true,"color":"#111","opacity":1,"size":40},"encoding":{"angle":{"field":"dir","type":"quantitative","scale":null}}},
{"data":{"name":"heads"},"transform":[{"filter":"datum.panel=='B' && datum.kind=='note'"}],"mark":{"type":"point","shape":"wedge","filled":true,"color":"#111","opacity":1,"size":70},"encoding":{"angle":{"field":"dir","type":"quantitative","scale":null}}},
{"data":{"name":"texts"},"transform":[{"filter":"datum.panel=='B' && datum.kind=='letter'"}],"mark":{"type":"text","align":"left","baseline":"alphabetic","font":"Liberation Sans","fontStyle":"italic","fontSize":36,"color":"#111"},"encoding":{"text":{"field":"label"}}},
{"data":{"name":"texts"},"transform":[{"filter":"datum.panel=='B' && datum.kind=='N'"}],"mark":{"type":"text","align":"center","baseline":"alphabetic","font":"Liberation Sans","fontStyle":"italic","fontSize":16,"color":"#111"},"encoding":{"text":{"field":"label"}}},
{"data":{"name":"texts"},"transform":[{"filter":"datum.panel=='B' && datum.kind=='title'"}],"mark":{"type":"text","align":"left","baseline":"alphabetic","font":"DejaVu Sans","fontWeight":"bold","fontSize":22,"color":"#111"},"encoding":{"text":{"field":"label"}}},
{"data":{"name":"texts"},"transform":[{"filter":"datum.panel=='B' && datum.kind=='count'"}],"mark":{"type":"text","align":"right","baseline":"alphabetic","font":"DejaVu Sans","fontWeight":"bold","fontSize":22,"color":"#111"},"encoding":{"text":{"field":"label"}}},
{"data":{"name":"texts"},"transform":[{"filter":"datum.panel=='B' && datum.kind=='note'"}],"mark":{"type":"text","align":"left","baseline":"alphabetic","font":"DejaVu Sans","fontWeight":"bold","fontSize":16.5,"color":"#222"},"encoding":{"text":{"field":"label"}}},
{"data":{"name":"texts"},"transform":[{"filter":"datum.panel=='B' && datum.kind=='notec'"}],"mark":{"type":"text","align":"center","baseline":"alphabetic","font":"DejaVu Sans","fontWeight":"bold","fontSize":17,"color":"#222"},"encoding":{"text":{"field":"label"}}}
]},
{"width":441,"height":395,
"encoding":{"x":{"field":"x","type":"quantitative","scale":{"domain":[-212,229],"nice":false,"zero":false},"axis":null},"y":{"field":"y","type":"quantitative","scale":{"domain":[-184,211],"nice":false,"zero":false},"axis":null}},
"layer":[
{"data":{"name":"lines"},"transform":[{"filter":"datum.panel=='C'"}],"mark":{"type":"line","interpolate":"cardinal","stroke":"#333","strokeWidth":1},"encoding":{"detail":{"field":"id"},"order":{"value":null}}},
{"data":{"name":"ellipse"},"mark":{"type":"line","interpolate":"cardinal-closed","stroke":"#222","strokeWidth":1.5},"encoding":{"order":{"value":null}}},
{"data":{"name":"heads"},"transform":[{"filter":"datum.panel=='C' && datum.kind=='north'"}],"mark":{"type":"point","shape":"triangle","filled":true,"color":"#111","opacity":1,"size":40},"encoding":{"angle":{"field":"dir","type":"quantitative","scale":null}}},
{"data":{"name":"heads"},"transform":[{"filter":"datum.panel=='C' && datum.kind=='slick'"}],"mark":{"type":"point","shape":"triangle","filled":true,"color":"#111","opacity":1,"size":70},"encoding":{"angle":{"field":"dir","type":"quantitative","scale":null}}},
{"data":{"name":"texts"},"transform":[{"filter":"datum.panel=='C' && datum.kind=='letter'"}],"mark":{"type":"text","align":"left","baseline":"alphabetic","font":"Liberation Sans","fontSize":38,"color":"#111"},"encoding":{"text":{"field":"label"}}},
{"data":{"name":"texts"},"transform":[{"filter":"datum.panel=='C' && datum.kind=='N'"}],"mark":{"type":"text","align":"center","baseline":"alphabetic","font":"Liberation Sans","fontStyle":"italic","fontSize":16,"color":"#111"},"encoding":{"text":{"field":"label"}}},
{"data":{"name":"texts"},"transform":[{"filter":"datum.panel=='C' && datum.kind=='title'"}],"mark":{"type":"text","align":"left","baseline":"alphabetic","font":"DejaVu Sans","fontWeight":"bold","fontSize":22.5,"color":"#111"},"encoding":{"text":{"field":"label"}}}
]},
{"width":442,"height":395,
"encoding":{"x":{"field":"x","type":"quantitative","scale":{"domain":[-239,203],"nice":false,"zero":false},"axis":null},"y":{"field":"y","type":"quantitative","scale":{"domain":[-182,213],"nice":false,"zero":false},"axis":null}},
"layer":[
{"data":{"name":"polys"},"transform":[{"filter":"datum.panel=='D' && datum.level=='qz'"}],"mark":{"type":"line","interpolate":"linear-closed","stroke":"#444","strokeWidth":0.8},"encoding":{"detail":{"field":"id"},"order":{"value":null},"fill":{"field":"level","type":"nominal","scale":{"domain":["light","midlight","mid","dark","black","qz","gq","core"],"range":["#dcdcdc","#c0c0c0","#a0a0a0","#6e6e6e","#000000","#e6e6e6","#a9a9a9","#a9a9a9"]},"legend":null}}},
{"data":{"name":"polys"},"transform":[{"filter":"datum.panel=='D' && datum.level=='gq'"}],"mark":{"type":"line","interpolate":"linear-closed","stroke":"#444","strokeWidth":0.8},"encoding":{"detail":{"field":"id"},"order":{"value":null},"fill":{"field":"level","type":"nominal","legend":null}}},
{"data":{"name":"polys"},"transform":[{"filter":"datum.panel=='D' && datum.level=='core'"}],"mark":{"type":"line","interpolate":"cardinal-closed","stroke":"#444","strokeWidth":0.8},"encoding":{"detail":{"field":"id"},"order":{"value":null},"fill":{"field":"level","type":"nominal","legend":null}}},
{"data":{"name":"lines"},"transform":[{"filter":"datum.panel=='D'"}],"mark":{"type":"line","interpolate":"cardinal","stroke":"#222","strokeWidth":1},"encoding":{"detail":{"field":"id"},"order":{"value":null}}},
{"data":{"name":"ellipse"},"mark":{"type":"line","interpolate":"cardinal-closed","stroke":"#333","strokeWidth":1},"encoding":{"order":{"value":null}}},
{"data":{"name":"heads"},"transform":[{"filter":"datum.panel=='D' && datum.kind=='north'"}],"mark":{"type":"point","shape":"triangle","filled":true,"color":"#111","opacity":1,"size":40},"encoding":{"angle":{"field":"dir","type":"quantitative","scale":null}}},
{"data":{"name":"heads"},"transform":[{"filter":"datum.panel=='D' && datum.kind=='note'"}],"mark":{"type":"point","shape":"wedge","filled":true,"color":"#111","opacity":1,"size":70},"encoding":{"angle":{"field":"dir","type":"quantitative","scale":null}}},
{"data":{"name":"texts"},"transform":[{"filter":"datum.panel=='D' && datum.kind=='letter'"}],"mark":{"type":"text","align":"left","baseline":"alphabetic","font":"Liberation Sans","fontStyle":"italic","fontSize":33,"color":"#111"},"encoding":{"text":{"field":"label"}}},
{"data":{"name":"texts"},"transform":[{"filter":"datum.panel=='D' && datum.kind=='N'"}],"mark":{"type":"text","align":"center","baseline":"alphabetic","font":"Liberation Sans","fontStyle":"italic","fontSize":16,"color":"#111"},"encoding":{"text":{"field":"label"}}},
{"data":{"name":"texts"},"transform":[{"filter":"datum.panel=='D' && datum.kind=='title'"}],"mark":{"type":"text","align":"left","baseline":"alphabetic","font":"DejaVu Sans","fontWeight":"bold","fontSize":22,"color":"#111"},"encoding":{"text":{"field":"label"}}},
{"data":{"name":"texts"},"transform":[{"filter":"datum.panel=='D' && datum.kind=='count'"}],"mark":{"type":"text","align":"right","baseline":"alphabetic","font":"DejaVu Sans","fontWeight":"bold","fontSize":22,"color":"#111"},"encoding":{"text":{"field":"label"}}},
{"data":{"name":"texts"},"transform":[{"filter":"datum.panel=='D' && datum.kind=='note'"}],"mark":{"type":"text","align":"left","baseline":"alphabetic","font":"DejaVu Sans","fontWeight":"bold","fontSize":16.5,"color":"#222"},"encoding":{"text":{"field":"label"}}},
{"data":{"name":"texts"},"transform":[{"filter":"datum.panel=='D' && datum.kind=='notec'"}],"mark":{"type":"text","align":"center","baseline":"alphabetic","font":"DejaVu Sans","fontWeight":"bold","fontSize":17,"color":"#444"},"encoding":{"text":{"field":"label"}}}
]}
]
}
